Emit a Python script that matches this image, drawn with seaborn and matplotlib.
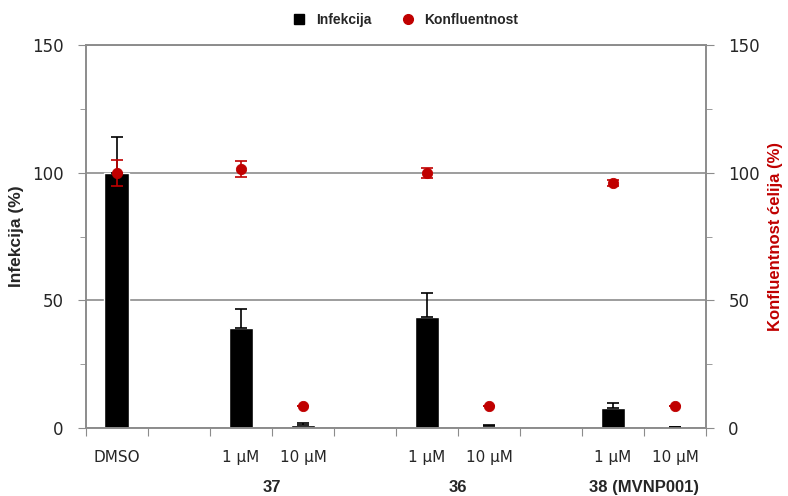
import numpy as np
import pandas as pd
import matplotlib
matplotlib.use("Agg")
import matplotlib.pyplot as plt
import seaborn as sns
from matplotlib.lines import Line2D
from matplotlib.ticker import MultipleLocator

# raspored mjesta na x osi (prazna mjesta razdvajaju spojeve)
slots = ["DMSO", "gap_a", "37 1", "37 10", "gap_b", "36 1", "36 10", "gap_c", "38 1", "38 10"]
slot_labels = ["DMSO", "", "1 µM", "10 µM", "", "1 µM", "10 µM", "", "1 µM", "10 µM"]
groups = ["37", "36", "38 (MVNP001)"]
group_slots = [("37 1", "37 10"), ("36 1", "36 10"), ("38 1", "38 10")]

samples = ["DMSO", "37 1", "37 10", "36 1", "36 10", "38 1", "38 10"]
infekcija = [100, 39, 1.0, 43.5, 0.8, 8, 0.3]
infekcija_err = [14, 7.5, 1.0, 9.5, 0.5, 2, 0.3]
konfluentnost = [100, 101.5, 8.5, 100, 8.5, 96, 8.5]
konfluentnost_err = [5, 3, 0, 2, 0, 1, 0]

RED = "#C00000"
GREY = "#8c8c8c"

sns.set_style("white")
plt.rcParams["font.family"] = ["DejaVu Sans"]

df = pd.DataFrame({"uzorak": samples, "infekcija": infekcija})
pos = np.array([slots.index(s) for s in samples])

fig = plt.figure(figsize=(7.88, 4.96), dpi=100)
ax = fig.add_axes([0.109, 0.137, 0.787, 0.772])

sns.barplot(data=df, x="uzorak", y="infekcija", order=slots, color="black",
            width=0.4, saturation=1, ax=ax, zorder=2)
ax.errorbar(pos, infekcija, yerr=[np.zeros(len(pos)), infekcija_err], fmt="none",
            ecolor="black", elinewidth=1.2, capsize=4, capthick=1.2, zorder=3)

ax.set_xlim(-0.5, len(slots) - 0.5)
ax.set_ylim(0, 150)
ax.set_xlabel("")
ax.set_ylabel("Infekcija (%)", fontsize=12.5, fontweight="bold",
              family="Liberation Sans", labelpad=6)

# x: crtice izmedju mjesta, natpisi u sredini
ax.set_xticks(np.arange(-0.5, len(slots), 1))
ax.set_xticklabels([])
ax.set_xticks(np.arange(len(slots)), minor=True)
ax.set_xticklabels(slot_labels, minor=True, fontsize=11)
ax.tick_params(axis="x", which="major", direction="out", length=6, color=GREY, bottom=True)
ax.tick_params(axis="x", which="minor", length=0, pad=16)

for name, (a, b) in zip(groups, group_slots):
    xc = (slots.index(a) + slots.index(b)) / 2
    ax.text(xc, -0.155, name, transform=ax.get_xaxis_transform(), ha="center",
            va="center", fontsize=12, fontweight="bold", family="Liberation Sans")

ax.yaxis.set_major_locator(MultipleLocator(50))
ax.yaxis.set_minor_locator(MultipleLocator(25))
ax.tick_params(axis="y", which="major", direction="out", length=6, color=GREY,
               left=True, labelsize=12, pad=10)
ax.tick_params(axis="y", which="minor", direction="out", length=4, color=GREY, left=True)
ax.yaxis.grid(True, which="major", color=GREY, lw=1.2)
ax.set_axisbelow(True)
for side in ["left", "bottom", "right", "top"]:
    ax.spines[side].set_color(GREY)
    ax.spines[side].set_linewidth(1.2)

ax2 = ax.twinx()
sns.scatterplot(x=pos, y=konfluentnost, color=RED, edgecolor=RED, s=55, ax=ax2, zorder=4)
ax2.errorbar(pos, konfluentnost, yerr=konfluentnost_err, fmt="none", ecolor=RED,
             elinewidth=1.2, capsize=4, capthick=1.2, zorder=4)
ax2.set_xlim(-0.5, len(slots) - 0.5)
ax2.set_ylim(0, 150)
ax2.yaxis.set_major_locator(MultipleLocator(50))
ax2.yaxis.set_minor_locator(MultipleLocator(25))
ax2.tick_params(axis="y", which="major", direction="out", length=6, color=GREY,
                right=True, labelsize=12, pad=10)
ax2.tick_params(axis="y", which="minor", direction="out", length=4, color=GREY, right=True)
ax2.set_ylabel("Konfluentnost ćelija (%)", fontsize=12, fontweight="bold",
               family="Liberation Sans", color=RED, labelpad=6)
for side in ["left", "bottom", "right", "top"]:
    ax2.spines[side].set_color(GREY)
    ax2.spines[side].set_linewidth(1.2)

handles = [
    Line2D([], [], marker="s", color="black", linestyle="none", markersize=7),
    Line2D([], [], marker="o", color=RED, linestyle="none", markersize=7),
]
fig.legend(handles, ["Infekcija", "Konfluentnost"], loc="center", bbox_to_anchor=(0.51, 0.96),
           ncol=2, frameon=False, handletextpad=0.2, columnspacing=1.6,
           prop={"family": "Liberation Sans", "weight": "bold", "size": 10})

fig.savefig("out.png", dpi=100)
